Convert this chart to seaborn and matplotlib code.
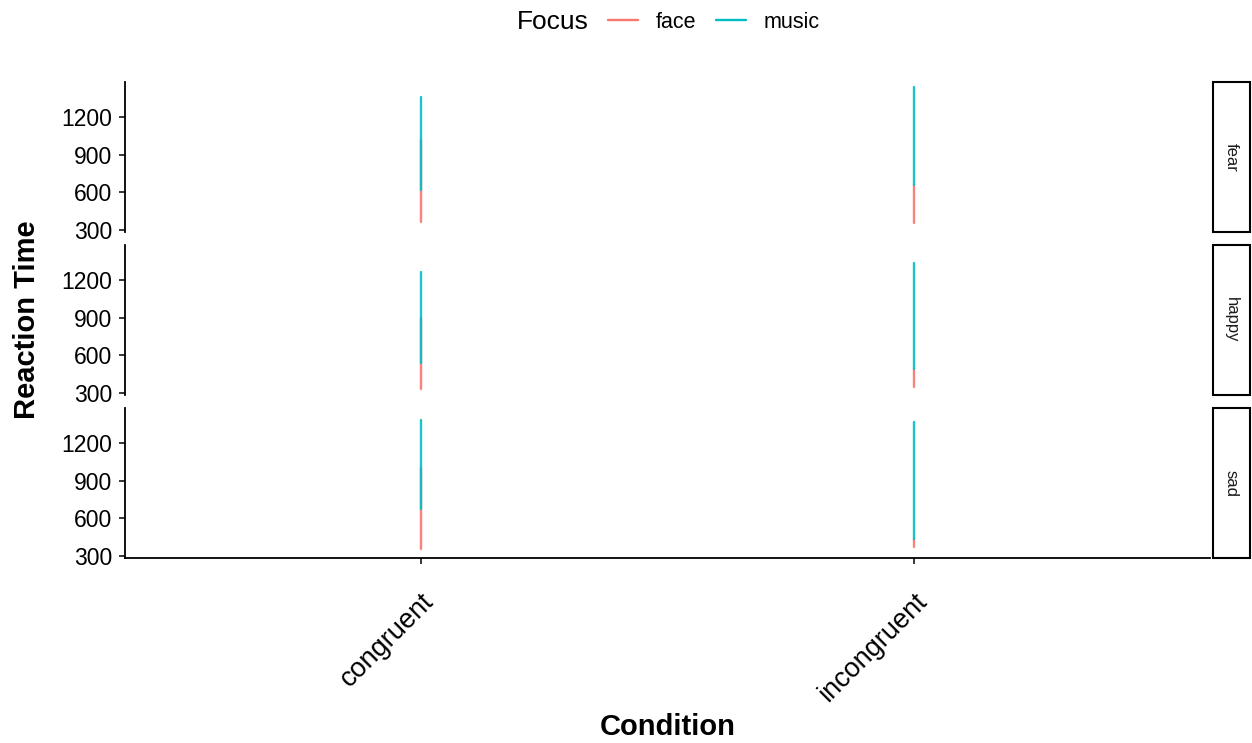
import numpy as np
import pandas as pd
import seaborn as sns
import matplotlib.pyplot as plt
from matplotlib.lines import Line2D
from matplotlib.patches import Rectangle

# data (min / max reaction time of each line)
emotions = ['fear', 'happy', 'sad']
conditions = ['congruent', 'incongruent']
focus_levels = ['face', 'music']

face_min = [[367, 359], [332, 346], [356, 375]]
face_max = [[1017, 660], [895, 489], [999, 433]]
music_min = [[619, 659], [537, 489], [675, 433]]
music_max = [[1362, 1436], [1266, 1333], [1383, 1370]]

palette = {'face': '#F8766D', 'music': '#00BFC4'}

# long format table: two end points per line
rows = []
for i, emo in enumerate(emotions):
    for j, cond in enumerate(conditions):
        for rt in (face_min[i][j], face_max[i][j]):
            rows.append((emo, cond, j, 'face', rt))
        for rt in (music_min[i][j], music_max[i][j]):
            rows.append((emo, cond, j, 'music', rt))
df = pd.DataFrame(rows, columns=['emotion', 'condition', 'cond_idx', 'focus', 'rt'])

sns.set_theme(style='ticks')
plt.rcParams['font.family'] = ['Liberation Sans', 'DejaVu Sans']
plt.rcParams['text.color'] = 'black'
plt.rcParams['xtick.color'] = 'black'
plt.rcParams['ytick.color'] = 'black'

W, H = 1252, 743
fig = plt.figure(figsize=(W / 100, H / 100), dpi=100)

left, right = 125, 1210
panel_tops = [82, 245, 408]
panel_h = 150

axes = []
for i, emo in enumerate(emotions):
    top = panel_tops[i]
    ax = fig.add_axes([left / W, 1 - (top + panel_h) / H, (right - left) / W, panel_h / H])
    sub = df[df['emotion'] == emo]
    sns.lineplot(data=sub, x='cond_idx', y='rt', hue='focus', units='condition',
                 estimator=None, sort=False, palette=palette, hue_order=focus_levels,
                 linewidth=1.7, alpha=0.9, legend=False, ax=ax)
    ax.set_xlim(-0.6, 1.6)
    ax.set_ylim(284, 1479)
    ax.set_yticks([300, 600, 900, 1200])
    ax.tick_params(axis='y', labelsize=16.5, length=4, width=1.1, color='black', pad=5)
    ax.set_xlabel('')
    ax.set_ylabel('')
    for s in ['top', 'right']:
        ax.spines[s].set_visible(False)
    ax.spines['left'].set_linewidth(1.3)
    ax.spines['left'].set_color('black')
    if i < len(emotions) - 1:
        ax.spines['bottom'].set_visible(False)
        ax.set_xticks([])
    else:
        ax.spines['bottom'].set_linewidth(1.3)
        ax.spines['bottom'].set_color('black')
        ax.set_xticks(range(len(conditions)))
        ax.set_xticklabels(conditions, rotation=45, ha='right', rotation_mode='anchor', fontsize=19.5)
        ax.tick_params(axis='x', length=4, width=1.1, color='black', pad=18)

    # facet strip on the right
    fig.add_artist(Rectangle((1213 / W, 1 - (top + panel_h) / H), 37 / W, panel_h / H,
                             transform=fig.transFigure, facecolor='white',
                             edgecolor='black', linewidth=1.5))
    fig.text(1231.5 / W, 1 - (top + panel_h / 2) / H, emo, rotation=-90,
             ha='center', va='center', fontsize=12, color='#1a1a1a')
    axes.append(ax)

fig.text(668 / W, 1 - 727 / H, 'Condition', ha='center', va='center',
         fontsize=21, fontweight='bold')
fig.text(27 / W, 1 - 320 / H, 'Reaction Time', ha='center', va='center',
         rotation=90, fontsize=21, fontweight='bold')

# legend on top
handles = [Line2D([], [], color=palette[f], linewidth=1.7) for f in focus_levels]
fig.text(553 / W, 1 - 22 / H, 'Focus', ha='center', va='center', fontsize=19)
fig.legend(handles, focus_levels, loc='center left', bbox_to_anchor=(608 / W, 1 - 22 / H),
           ncol=2, frameon=False, fontsize=15.5, handlelength=1.4, handletextpad=0.8,
           columnspacing=0.95, borderpad=0, borderaxespad=0)

fig.savefig('out.png', dpi=100)
